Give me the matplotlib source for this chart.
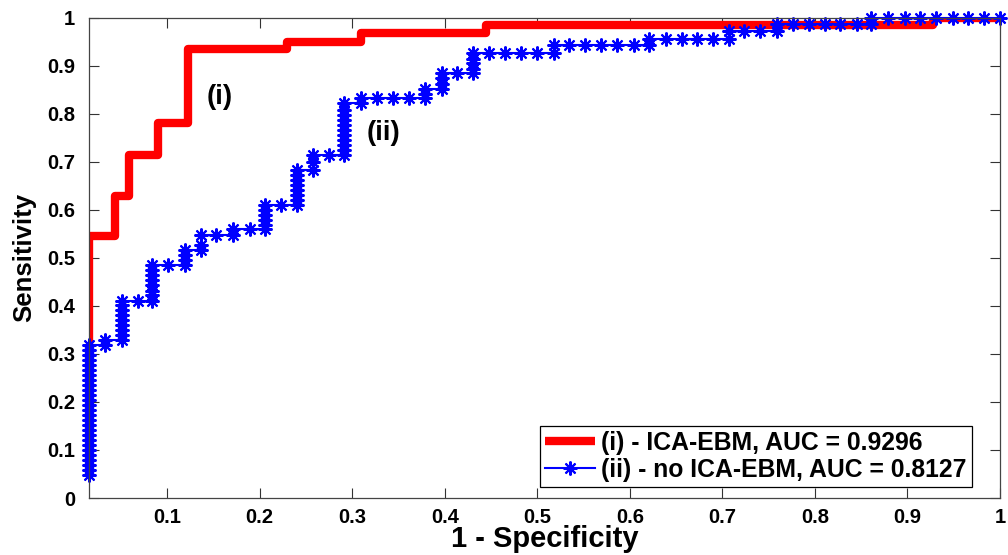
import matplotlib
matplotlib.use('Agg')
import matplotlib.pyplot as plt
from matplotlib.ticker import FuncFormatter

plt.rcParams['font.family'] = ['Liberation Sans', 'DejaVu Sans']
plt.rcParams['font.weight'] = 'bold'

x_min = 0.0155

# (i) ICA-EBM ROC curve (step corners)
fpr_ica = [0.0155, 0.0155, 0.044, 0.059, 0.090, 0.122, 0.229, 0.310, 0.445, 0.928, 1.0]
tpr_ica = [0.06, 0.545, 0.629, 0.714, 0.780, 0.935, 0.949, 0.969, 0.985, 1.0, 1.0]

# (ii) no ICA-EBM ROC curve, one entry per marker
fpr_no = ([0.0155] * 27
          + [0.033, 0.033]
          + [0.051] * 9
          + [0.068]
          + [0.084] * 8
          + [0.101]
          + [0.119] * 4
          + [0.136] * 3
          + [0.153]
          + [0.171] * 2
          + [0.189]
          + [0.206] * 6
          + [0.223]
          + [0.240] * 8
          + [0.2575] * 3
          + [0.275]
          + [0.291] * 11
          + [0.309] * 2
          + [0.327, 0.344, 0.361]
          + [0.379] * 3
          + [0.397] * 4
          + [0.413]
          + [0.431] * 5
          + [0.448, 0.465, 0.482, 0.500]
          + [0.518] * 2
          + [0.534, 0.552, 0.569, 0.586, 0.604]
          + [0.621] * 2
          + [0.639, 0.656, 0.673, 0.690]
          + [0.707] * 2
          + [0.723, 0.741]
          + [0.759] * 2
          + [0.776, 0.794, 0.811, 0.827, 0.845]
          + [0.861] * 2
          + [0.879, 0.897, 0.914, 0.931, 0.949, 0.965, 0.983, 1.0])
tpr_no = ([0.048, 0.058, 0.069, 0.079, 0.090, 0.100, 0.110, 0.121, 0.131, 0.142,
           0.152, 0.163, 0.173, 0.183, 0.194, 0.204, 0.215, 0.225, 0.235, 0.246,
           0.256, 0.267, 0.277, 0.288, 0.298, 0.308, 0.319]
          + [0.319, 0.329]
          + [0.329, 0.339, 0.349, 0.360, 0.370, 0.380, 0.391, 0.401, 0.411]
          + [0.411]
          + [0.411, 0.422, 0.432, 0.443, 0.453, 0.464, 0.474, 0.485]
          + [0.485]
          + [0.485, 0.495, 0.506, 0.516]
          + [0.516, 0.526, 0.547]
          + [0.547]
          + [0.547, 0.560]
          + [0.560]
          + [0.560, 0.568, 0.579, 0.589, 0.600, 0.610]
          + [0.610]
          + [0.610, 0.620, 0.631, 0.641, 0.652, 0.662, 0.672, 0.683]
          + [0.683, 0.700, 0.714]
          + [0.714]
          + [0.714, 0.724, 0.735, 0.745, 0.756, 0.766, 0.777, 0.787, 0.797, 0.808, 0.822]
          + [0.822, 0.832]
          + [0.832, 0.832, 0.832]
          + [0.832, 0.842, 0.852]
          + [0.852, 0.863, 0.874, 0.884]
          + [0.884]
          + [0.884, 0.894, 0.905, 0.915, 0.926]
          + [0.926, 0.926, 0.926, 0.926]
          + [0.926, 0.943]
          + [0.943, 0.943, 0.943, 0.943, 0.943]
          + [0.943, 0.956]
          + [0.956, 0.956, 0.956, 0.956]
          + [0.956, 0.972]
          + [0.972, 0.972]
          + [0.972, 0.986]
          + [0.986, 0.986, 0.986, 0.986, 0.986]
          + [0.986, 1.0]
          + [1.0, 1.0, 1.0, 1.0, 1.0, 1.0, 1.0, 1.0])

x_ticks = [0.1, 0.2, 0.3, 0.4, 0.5, 0.6, 0.7, 0.8, 0.9, 1.0]
y_ticks = [0, 0.1, 0.2, 0.3, 0.4, 0.5, 0.6, 0.7, 0.8, 0.9, 1.0]

fig = plt.figure(figsize=(10.08, 5.55), dpi=100)
ax = fig.add_axes([0.0883, 0.1027, 0.9037, 0.8654])

ax.plot(fpr_ica, tpr_ica, color='red', linewidth=6, drawstyle='steps-post',
        solid_joinstyle='round', solid_capstyle='butt',
        label='(i) - ICA-EBM, AUC = 0.9296')
ax.plot(fpr_no, tpr_no, color='blue', linewidth=1.5, marker=(8, 2, 0),
        markersize=10, markeredgewidth=1.5, clip_on=False,
        label='(ii) - no ICA-EBM, AUC = 0.8127')

ax.set_xlim(x_min, 1)
ax.set_ylim(0, 1)
ax.set_xticks(x_ticks)
ax.set_yticks(y_ticks)
fmt = FuncFormatter(lambda v, p: '%g' % v)
ax.xaxis.set_major_formatter(fmt)
ax.yaxis.set_major_formatter(fmt)
ax.tick_params(direction='in', length=7, width=0.8, top=True, right=True,
               labelsize=14.5, color='#333333')
ax.tick_params(axis='y', pad=10)
ax.tick_params(axis='x', pad=7)
for s in ax.spines.values():
    s.set_linewidth(0.9)
    s.set_color('#444444')

ax.set_xlabel('1 - Specificity', fontsize=21, fontweight='bold', labelpad=-1)
ax.set_ylabel('Sensitivity', fontsize=18.5, fontweight='bold', labelpad=8)

ax.text(0.157, 0.835, '(i)', fontsize=20, fontweight='bold', ha='center', va='center')
ax.text(0.334, 0.760, '(ii)', fontsize=20, fontweight='bold', ha='center', va='center')

leg = ax.legend(loc='lower right', bbox_to_anchor=(0.969, 0.022), borderaxespad=0,
                fancybox=False, framealpha=1, edgecolor='black',
                handlelength=2.0, handletextpad=0.25, borderpad=0.22, labelspacing=0.12,
                prop={'weight': 'bold', 'size': 17.8})
leg.get_frame().set_linewidth(0.9)

fig.savefig('out.png', dpi=100)
